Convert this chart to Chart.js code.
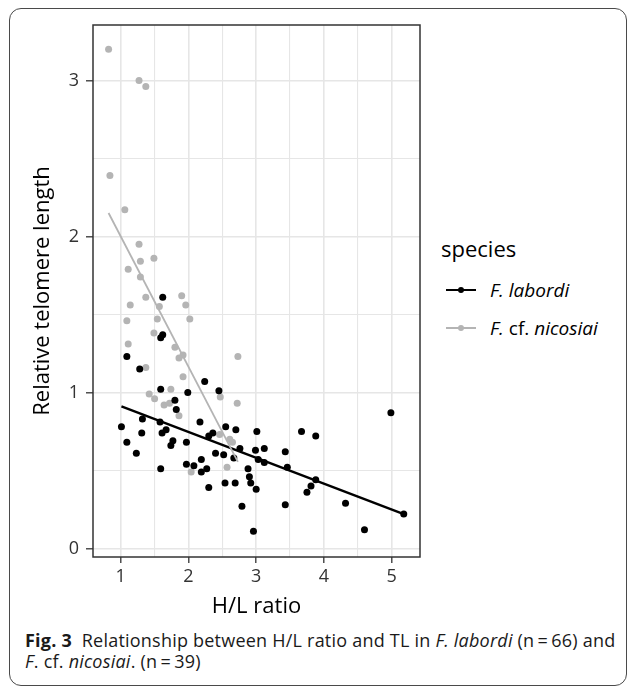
<!DOCTYPE html>
<html>
<head>
<meta charset="utf-8">
<script src="https://cdn.jsdelivr.net/npm/chart.js@4.4.1/dist/chart.umd.min.js"></script>
<style>
  body { margin: 0; width: 630px; height: 688px; position: relative; background: #fff; overflow: hidden; font-family: "Open Sans", sans-serif; color: #000; }
  #frame { position: absolute; left: 9px; top: 8px; width: 618px; height: 678px; border: 1.3px solid #4a4a4a; border-radius: 12px; box-sizing: border-box; }
  #myChart { position: absolute; left: 0; top: 0; }
  .ltitle { position: absolute; left: 441px; top: 233px; font-size: 22px; line-height: 30px; }
  .item { position: absolute; left: 446px; height: 24px; line-height: 24px; font-size: 19px; white-space: nowrap; }
  .key { position: absolute; left: 0; top: 11px; width: 30px; height: 2px; }
  .key .dot { position: absolute; left: 12px; top: -2px; width: 6px; height: 6px; border-radius: 3px; }
  .label { position: absolute; left: 44px; top: 0; }
  .caption { position: absolute; left: 25px; font-size: 18px; line-height: 21px; white-space: nowrap; color: #1a1a1a; letter-spacing: 0.22px; }
</style>
</head>
<body>
<div id="frame"></div>
<canvas id="myChart" width="430" height="625"></canvas>

<div class="ltitle">species</div>
<div class="item" style="top:278px">
  <div class="key" style="background:#000"><div class="dot" style="background:#000"></div></div>
  <span class="label"><i>F. labordi</i></span>
</div>
<div class="item" style="top:316px">
  <div class="key" style="background:#b4b4b4"><div class="dot" style="background:#b4b4b4"></div></div>
  <span class="label"><i>F.</i> cf. <i>nicosiai</i></span>
</div>

<div class="caption" style="top:630px"><b>Fig. 3</b>&nbsp; Relationship between H/L ratio and TL in <i>F. labordi</i> (n&thinsp;=&thinsp;66) and</div>
<div class="caption" style="top:651px"><i>F</i>. cf. <i>nicosiai</i>. (n&thinsp;=&thinsp;39)</div>

<script>
// F. labordi (black points)
const labordiX = [1.62, 1.62, 1.59, 1.09, 1.28, 2.24, 1.59, 1.99, 2.45, 1.80,
  1.82, 1.32, 1.01, 1.58, 2.17, 1.67, 1.61, 1.31, 2.55, 2.70,
  3.01, 1.09, 1.23, 1.77, 1.74, 1.97, 2.30, 2.36, 2.76, 2.99,
  3.12, 3.43, 2.40, 2.52, 2.67, 3.03, 3.12, 3.46, 2.19, 1.97,
  2.08, 2.27, 2.19, 1.59, 2.88, 2.90, 2.92, 2.54, 2.69, 2.30,
  3.00, 2.79, 2.96, 4.99, 3.67, 3.88, 3.88, 3.81, 3.75, 3.43,
  4.32, 4.60, 5.18];
const labordiY = [1.61, 1.37, 1.35, 1.23, 1.15, 1.07, 1.02, 1.00, 1.01, 0.95,
  0.89, 0.83, 0.78, 0.81, 0.81, 0.76, 0.74, 0.74, 0.78, 0.76,
  0.75, 0.68, 0.61, 0.69, 0.66, 0.68, 0.72, 0.74, 0.64, 0.63,
  0.64, 0.62, 0.61, 0.60, 0.58, 0.57, 0.55, 0.52, 0.57, 0.54,
  0.53, 0.51, 0.49, 0.51, 0.51, 0.46, 0.42, 0.42, 0.42, 0.39,
  0.38, 0.27, 0.11, 0.87, 0.75, 0.72, 0.44, 0.40, 0.36, 0.28,
  0.29, 0.12, 0.22];

// F. cf. nicosiai (grey points)
const nicosiaiX = [0.82, 1.27, 1.37, 0.84, 1.06, 1.27, 1.29, 1.49, 1.11, 1.29,
  1.37, 1.90, 1.14, 1.57, 1.96, 1.09, 1.54, 2.02, 1.49, 1.11,
  1.80, 1.92, 1.86, 2.73, 1.37, 1.92, 1.74, 1.42, 2.47, 1.50,
  2.72, 1.64, 1.72, 1.86, 2.46, 2.61, 2.65, 2.04, 2.57];
const nicosiaiY = [3.20, 3.00, 2.96, 2.39, 2.17, 1.95, 1.84, 1.86, 1.79, 1.74,
  1.61, 1.62, 1.56, 1.55, 1.56, 1.46, 1.47, 1.47, 1.38, 1.31,
  1.29, 1.24, 1.22, 1.23, 1.16, 1.10, 1.02, 0.99, 0.97, 0.96,
  0.93, 0.92, 0.93, 0.85, 0.73, 0.70, 0.68, 0.49, 0.52];

// fitted lines (end points)
const labordiFitX = [1.01, 5.18];
const labordiFitY = [0.91, 0.22];
const nicosiaiFitX = [0.82, 2.73];
const nicosiaiFitY = [2.15, 0.555];

const xTicks = [1, 2, 3, 4, 5];
const xMinor = [1.5, 2.5, 3.5, 4.5];
const yTicks = [0, 1, 2, 3];
const yMinor = [0.5, 1.5, 2.5];

function toPoints(xs, ys) {
  return xs.map((x, i) => ({ x: x, y: ys[i] }));
}

const panelBorder = {
  id: "panelBorder",
  afterDatasetsDraw(chart) {
    const { ctx, chartArea } = chart;
    ctx.save();
    ctx.strokeStyle = "#333";
    ctx.lineWidth = 1.5;
    ctx.strokeRect(chartArea.left, chartArea.top, chartArea.right - chartArea.left, chartArea.bottom - chartArea.top);
    ctx.restore();
  },
};

const tickFont = { family: "Open Sans", size: 18 };
const titleFont = { family: "Open Sans", size: 22 };

const ctx = document.getElementById("myChart").getContext("2d");
const myChart = new Chart(ctx, {
  type: "scatter",
  data: {
    datasets: [
      {
        type: "line",
        data: toPoints(labordiFitX, labordiFitY),
        borderColor: "#000",
        borderWidth: 2.4,
        pointRadius: 0,
        order: 2,
      },
      {
        type: "line",
        data: toPoints(nicosiaiFitX, nicosiaiFitY),
        borderColor: "#b4b4b4",
        borderWidth: 1.8,
        pointRadius: 0,
        order: 1,
      },
      {
        label: "F. labordi",
        data: toPoints(labordiX, labordiY),
        backgroundColor: "#000",
        borderWidth: 0,
        pointRadius: 3.5,
        order: 3,
      },
      {
        label: "F. cf. nicosiai",
        data: toPoints(nicosiaiX, nicosiaiY),
        backgroundColor: "#b4b4b4",
        borderWidth: 0,
        pointRadius: 3.5,
        order: 4,
      },
    ],
  },
  options: {
    responsive: false,
    animation: false,
    layout: { padding: { top: 25, right: 10, left: 0, bottom: 0 } },
    plugins: { legend: { display: false }, tooltip: { enabled: false } },
    scales: {
      x: {
        type: "linear",
        min: 0.59,
        max: 5.42,
        afterBuildTicks: (axis) => {
          axis.ticks = xTicks.concat(xMinor).sort((a, b) => a - b).map((v) => ({ value: v }));
        },
        afterFit: (scale) => {
          scale.height = 68;
        },
        ticks: {
          autoSkip: false,
          maxRotation: 0,
          padding: 3,
          color: "#333",
          font: tickFont,
          callback: (v) => (xTicks.includes(v) ? v : ""),
        },
        grid: {
          color: "#e6e6e6",
          lineWidth: (c) => (xTicks.includes(c.tick.value) ? 1.6 : 1.1),
          tickLength: 6,
          tickWidth: 1.3,
          tickColor: (c) => (xTicks.includes(c.tick.value) ? "#333" : "rgba(0,0,0,0)"),
        },
        border: { display: false },
        title: { display: true, text: "H/L ratio", color: "#000", font: titleFont, padding: { top: 0, bottom: 5 } },
      },
      y: {
        type: "linear",
        min: -0.055,
        max: 3.355,
        afterBuildTicks: (axis) => {
          axis.ticks = yTicks.concat(yMinor).sort((a, b) => a - b).map((v) => ({ value: v }));
        },
        afterFit: (scale) => {
          scale.width = 93;
        },
        ticks: {
          autoSkip: false,
          padding: 7,
          color: "#333",
          font: tickFont,
          callback: (v) => (yTicks.includes(v) ? v : ""),
        },
        grid: {
          color: "#e6e6e6",
          lineWidth: (c) => (yTicks.includes(c.tick.value) ? 1.6 : 1.1),
          tickLength: 7,
          tickWidth: 1.3,
          tickColor: (c) => (yTicks.includes(c.tick.value) ? "#333" : "rgba(0,0,0,0)"),
        },
        border: { display: false },
        title: { display: true, text: "Relative telomere length", color: "#000", font: titleFont, padding: { top: 30, bottom: 0 } },
      },
    },
  },
  plugins: [panelBorder],
});
</script>
</body>
</html>
